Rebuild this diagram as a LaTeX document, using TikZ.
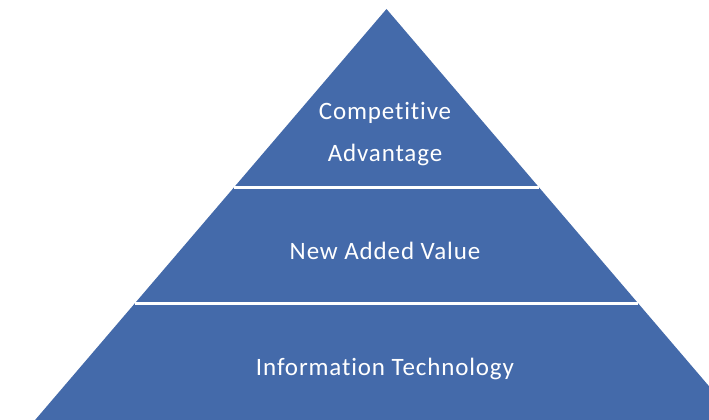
\documentclass[tikz,border=0pt]{standalone}
\usepackage{fontspec}
\setmainfont[LetterSpace=3.5,Ligatures=NoCommon]{Carlito}
\usetikzlibrary{calc}
\definecolor{pyrblue}{RGB}{68,106,170}

\begin{document}
\begin{tikzpicture}[x=1pt,y=-1pt]
    \tikzstyle{layer} = [fill=pyrblue]
    \tikzstyle{gap} = [draw=white,line width=2.2pt]
    \tikzstyle{label} = [text=white,font=\fontsize{25}{42}\selectfont,align=center]
      \useasboundingbox (0,0) rectangle (709,420);
      \clip (0,0) rectangle (709,420);
      \coordinate (apex) at (386.5,9);
      \coordinate (baseL) at (35.1,420);
      \coordinate (baseR) at (737.9,420);
      \fill[layer] (apex) -- (baseL) -- (baseR) -- cycle;
      \draw[gap] ($ (apex)!0.4343!(baseL) $) coordinate (gapAL) -- ($ (apex)!0.4343!(baseR) $) coordinate (gapAR);
      \draw[gap] ($ (apex)!0.7165!(baseL) $) coordinate (gapBL) -- ($ (apex)!0.7165!(baseR) $) coordinate (gapBR);
      \node[label] (advantage) at (385,134) {Competitive\\Advantage};
      \node[label] (value) at (385,251) {New Added Value};
      \node[label] (technology) at (385,369) {Information Technology};
  \end{tikzpicture}
\end{document}
